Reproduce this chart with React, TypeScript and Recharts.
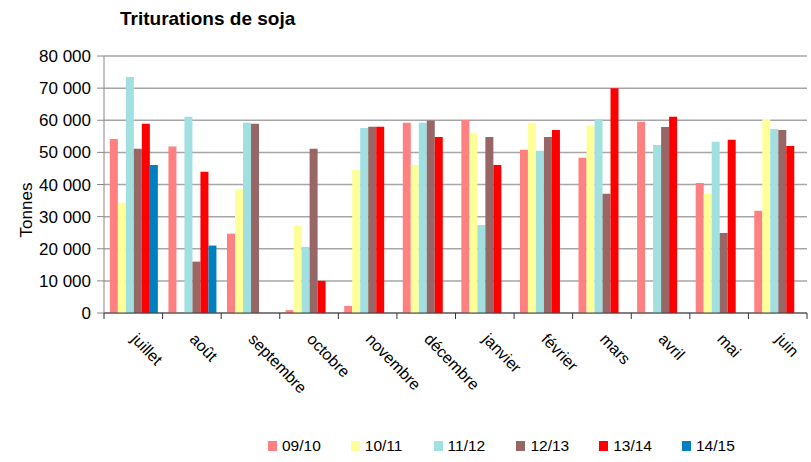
import { BarChart, Bar, XAxis, YAxis, CartesianGrid } from 'recharts';

const months = ['juillet', 'août', 'septembre', 'octobre', 'novembre', 'décembre', 'janvier', 'février', 'mars', 'avril', 'mai', 'juin'];
const s0910 = [54200, 51800, 24700, 900, 2200, 59200, 60100, 50800, 48300, 59500, 40500, 31800];
const s1011 = [34300, null, 38400, 27200, 44500, 46100, 56100, 59200, 58300, null, 37100, 60400];
const s1112 = [73500, 61100, 59200, 20600, 57600, 59200, 27400, 50500, 60400, 52300, 53300, 57300];
const s1213 = [51100, 16000, 58900, 51100, 58000, 59900, 54800, 54800, 37100, 57900, 24900, 57000];
const s1314 = [58900, 44000, null, 10000, 58000, 54800, 46100, 57000, 70000, 61100, 53900, 52000];
const s1415 = [46100, 21000, null, null, null, null, null, null, null, null, null, null];
const yTicks = [0, 10000, 20000, 30000, 40000, 50000, 60000, 70000, 80000];

const series = [
  { key: 's0910', name: '09/10', values: s0910, color: '#FF8080' },
  { key: 's1011', name: '10/11', values: s1011, color: '#FFFF99' },
  { key: 's1112', name: '11/12', values: s1112, color: '#A0E0E0' },
  { key: 's1213', name: '12/13', values: s1213, color: '#996666' },
  { key: 's1314', name: '13/14', values: s1314, color: '#FF0000' },
  { key: 's1415', name: '14/15', values: s1415, color: '#0080C0' },
];

const W = 811;
const H = 462;
const TOP = 56;
const PLOT_H = 257;
const LEFT = 104;
const RIGHT = 4;
const AXIS_Y = TOP + PLOT_H;
const BAND = (W - LEFT - RIGHT) / months.length;
const FONT = '"Liberation Sans", Arial, sans-serif';

const fmt = (v: number) => String(v).replace(/\B(?=(\d{3})+(?!\d))/g, ' ');

function MonthTick(props: any) {
  const { x, payload, index } = props;
  const left = x - BAND / 2;
  const tx = x - 3;
  const ty = AXIS_Y + 27;
  return (
    <g>
      <line x1={left} y1={AXIS_Y} x2={left} y2={AXIS_Y + 6} stroke="#333" />
      {index === months.length - 1 && (
        <line x1={left + BAND} y1={AXIS_Y} x2={left + BAND} y2={AXIS_Y + 6} stroke="#333" />
      )}
      <text
        x={tx}
        y={ty}
        transform={`rotate(46 ${tx} ${ty})`}
        textAnchor="start"
        fontSize={16}
        fontFamily={FONT}
        fill="#000"
      >
        {payload.value}
      </text>
    </g>
  );
}

function TonnesLabel() {
  return (
    <text x={32} y={210} transform="rotate(-90 32 210)" textAnchor="middle" fontSize={17} fontFamily={FONT} fill="#000">
      Tonnes
    </text>
  );
}

export default function App() {
  const data = months.map((m, i) => {
    const row: Record<string, any> = { month: m };
    series.forEach(s => { row[s.key] = s.values[i]; });
    return row;
  });

  return (
    <div style={{ position: 'absolute', left: 0, top: 0, width: W, height: H, background: '#fff', fontFamily: FONT }}>
      <div style={{ position: 'absolute', left: 120, top: 8, fontSize: 19, fontWeight: 'bold', color: '#000' }}>
        Triturations de soja
      </div>
      <BarChart
        width={W}
        height={H}
        data={data}
        margin={{ top: TOP, right: RIGHT, bottom: 49, left: 10 }}
        barCategoryGap="10%"
        barGap={0}
      >
        <CartesianGrid vertical={false} stroke="#A6A6A6" strokeWidth={1.5} />
        <XAxis
          dataKey="month"
          interval={0}
          height={100}
          tickLine={false}
          axisLine={{ stroke: '#444' }}
          tick={<MonthTick />}
        />
        <YAxis
          width={94}
          domain={[0, 80000]}
          ticks={yTicks}
          tickFormatter={fmt}
          tickSize={7}
          tickMargin={6}
          interval={0}
          axisLine={{ stroke: '#888' }}
          tickLine={{ stroke: '#888' }}
          tick={{ fontSize: 17, fill: '#000', fontFamily: FONT }}
          label={<TonnesLabel />}
        />
        {series.map(s => (
          <Bar key={s.key} dataKey={s.key} name={s.name} fill={s.color} isAnimationActive={false} />
        ))}
      </BarChart>
      {series.map((s, i) => (
        <div key={s.key} style={{ position: 'absolute', left: 268 + i * 82.8, top: 436, height: 20, display: 'flex', alignItems: 'center' }}>
          <span style={{ display: 'inline-block', width: 9, height: 10, background: s.color, marginRight: 5 }} />
          <span style={{ fontSize: 15.5, color: '#000' }}>{s.name}</span>
        </div>
      ))}
    </div>
  );
}
